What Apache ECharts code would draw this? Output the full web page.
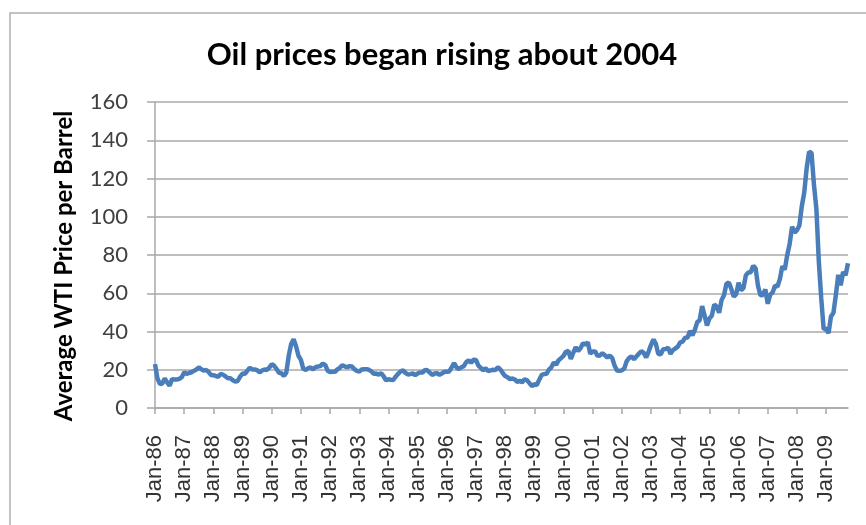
<!doctype html>
<html>
<head>
<meta charset="utf-8">
<script src="https://cdn.jsdelivr.net/npm/echarts@6/dist/echarts.min.js"></script>
<style>
    html, body {margin: 0;padding: 0;background: #fff;}
    #chart {width: 866px;height: 525px;}
</style>
</head>
<body>
<div id="chart"></div>
<script>
    // monthly average WTI price, Jan..Dec
    var p1986 = [22.9, 15.5, 12.6, 12.8, 15.4, 13.4, 11.6, 15.1, 14.9, 14.9, 15.2, 16.1];
    var p1987 = [18.7, 17.8, 18.3, 18.7, 19.4, 20.1, 21.3, 20.3, 19.5, 19.9, 18.9, 17.3];
    var p1988 = [17.1, 16.8, 16.2, 17.9, 17.4, 16.5, 15.5, 15.5, 14.5, 13.8, 14.1, 16.4];
    var p1989 = [18.0, 17.9, 19.5, 21.1, 20.1, 20.1, 19.8, 18.6, 19.6, 20.1, 19.9, 21.1];
    var p1990 = [22.9, 22.1, 20.4, 18.4, 18.2, 16.7, 18.5, 27.3, 33.5, 36.0, 32.3, 27.3];
    var p1991 = [25.2, 20.5, 19.9, 20.8, 21.2, 20.2, 21.4, 21.7, 21.9, 23.2, 22.5, 19.5];
    var p1992 = [18.8, 19.0, 18.9, 20.2, 21.0, 22.4, 21.8, 21.3, 21.9, 21.7, 20.3, 19.4];
    var p1993 = [19.0, 20.1, 20.3, 20.3, 20.0, 19.1, 17.9, 18.0, 17.5, 18.2, 16.6, 14.5];
    var p1994 = [15.0, 14.8, 14.7, 16.4, 17.9, 19.1, 19.7, 18.4, 17.5, 17.7, 18.1, 17.2];
    var p1995 = [18.0, 18.6, 18.5, 19.9, 19.7, 18.5, 17.3, 18.0, 18.2, 17.4, 18.0, 19.0];
    var p1996 = [18.9, 19.1, 21.3, 23.5, 21.2, 20.4, 21.3, 21.9, 24.0, 24.9, 23.7, 25.2];
    var p1997 = [25.1, 22.2, 21.0, 19.7, 20.8, 19.3, 19.7, 20.0, 19.8, 21.3, 20.2, 18.3];
    var p1998 = [16.7, 16.1, 15.1, 15.4, 14.9, 13.7, 14.2, 13.5, 15.0, 14.5, 13.0, 11.4];
    var p1999 = [12.5, 12.0, 14.7, 17.3, 17.7, 17.9, 20.1, 21.3, 23.8, 22.7, 25.0, 26.1];
    var p2000 = [27.3, 29.4, 29.8, 25.7, 28.8, 31.8, 29.7, 31.3, 33.9, 33.1, 34.4, 28.4];
    var p2001 = [29.6, 29.6, 27.3, 27.5, 28.6, 27.6, 26.4, 27.4, 26.2, 22.2, 19.6, 19.4];
    var p2002 = [19.7, 20.7, 24.5, 26.2, 27.0, 25.5, 27.0, 28.4, 29.7, 28.8, 26.4, 29.5];
    var p2003 = [33.0, 35.8, 33.5, 28.2, 28.1, 30.7, 30.8, 31.6, 28.3, 30.3, 31.1, 32.1];
    var p2004 = [34.3, 34.7, 36.7, 36.8, 40.3, 38.0, 40.8, 44.9, 45.9, 53.3, 48.5, 43.2];
    var p2005 = [46.8, 48.2, 54.2, 53.0, 49.8, 56.4, 59.0, 65.0, 65.6, 62.3, 58.3, 59.4];
    var p2006 = [65.5, 61.6, 62.7, 69.4, 70.8, 71.0, 74.4, 73.0, 63.8, 58.9, 59.1, 62.0];
    var p2007 = [54.5, 59.3, 60.4, 64.0, 63.5, 67.5, 74.1, 72.4, 79.9, 85.8, 94.8, 91.7];
    var p2008 = [93.0, 95.4, 105.5, 112.6, 125.4, 133.9, 133.4, 116.7, 104.1, 76.6, 57.3, 41.1];
    var p2009 = [41.7, 39.1, 47.9, 49.7, 59.0, 69.6, 64.2, 71.1, 69.4, 75.7];

    var years = ['86', '87', '88', '89', '90', '91', '92', '93', '94', '95', '96', '97',
        '98', '99', '00', '01', '02', '03', '04', '05', '06', '07', '08', '09'];
    var months = ['Jan', 'Feb', 'Mar', 'Apr', 'May', 'Jun', 'Jul', 'Aug', 'Sep', 'Oct', 'Nov', 'Dec'];

    var value = [].concat(p1986, p1987, p1988, p1989, p1990, p1991, p1992, p1993, p1994, p1995,
        p1996, p1997, p1998, p1999, p2000, p2001, p2002, p2003, p2004, p2005, p2006, p2007, p2008, p2009);
    var date = [];
    for (var i = 0; i < value.length; i++) {
        date.push(months[i % 12] + '-' + years[Math.floor(i / 12)]);
    }

    var gridColor = '#a8a8a8';
    var myChart = echarts.init(document.getElementById('chart'));

    option = {
        backgroundColor: '#fff',
        animation: false,
        graphic: [
            {
                type: 'rect',
                shape: {x: 10, y: 13, width: 900, height: 600},
                style: {fill: 'none', stroke: '#b0b0b0', lineWidth: 1.5}
            },
            {
                type: 'text',
                x: 442, y: 55,
                style: {
                    text: 'Oil prices began rising about 2004',
                    fill: '#000',
                    font: 'bold 31px Lato',
                    textAlign: 'center',
                    textVerticalAlign: 'middle'
                }
            },
            {
                type: 'text',
                x: 64, y: 266,
                rotation: Math.PI / 2,
                style: {
                    text: 'Average WTI Price per Barrel',
                    fill: '#000',
                    font: 'bold 24px Lato',
                    textAlign: 'center',
                    textVerticalAlign: 'middle'
                }
            }
        ],
        grid: {left: 155, right: 18, top: 102, bottom: 117},
        xAxis: {
            type: 'category',
            boundaryGap: false,
            data: date,
            axisLine: {lineStyle: {color: gridColor, width: 1.5}},
            axisTick: {
                show: true,
                length: 6,
                interval: function (index) {
                    return index % 12 === 0;
                },
                lineStyle: {color: gridColor, width: 1.5}
            },
            axisLabel: {
                rotate: 90,
                margin: 27,
                color: '#333',
                fontFamily: 'Liberation Sans',
                fontSize: 22,
                interval: function (index) {
                    return index % 12 === 0;
                }
            },
            splitLine: {show: false}
        },
        yAxis: {
            type: 'value',
            min: 0,
            max: 160,
            interval: 20,
            axisLine: {show: true, lineStyle: {color: gridColor, width: 1.5}},
            axisTick: {show: true, length: 8, lineStyle: {color: gridColor, width: 1.5}},
            axisLabel: {
                margin: 27,
                color: '#404040',
                fontFamily: 'Lato',
                fontSize: 22
            },
            splitLine: {lineStyle: {color: gridColor, width: 1.5}}
        },
        series: [
            {
                type: 'line',
                data: value,
                showSymbol: false,
                smooth: false,
                lineStyle: {color: '#4a7ebb', width: 4.5},
                itemStyle: {color: '#4a7ebb'}
            }
        ]
    };

    myChart.setOption(option);
</script>
</body>
</html>
